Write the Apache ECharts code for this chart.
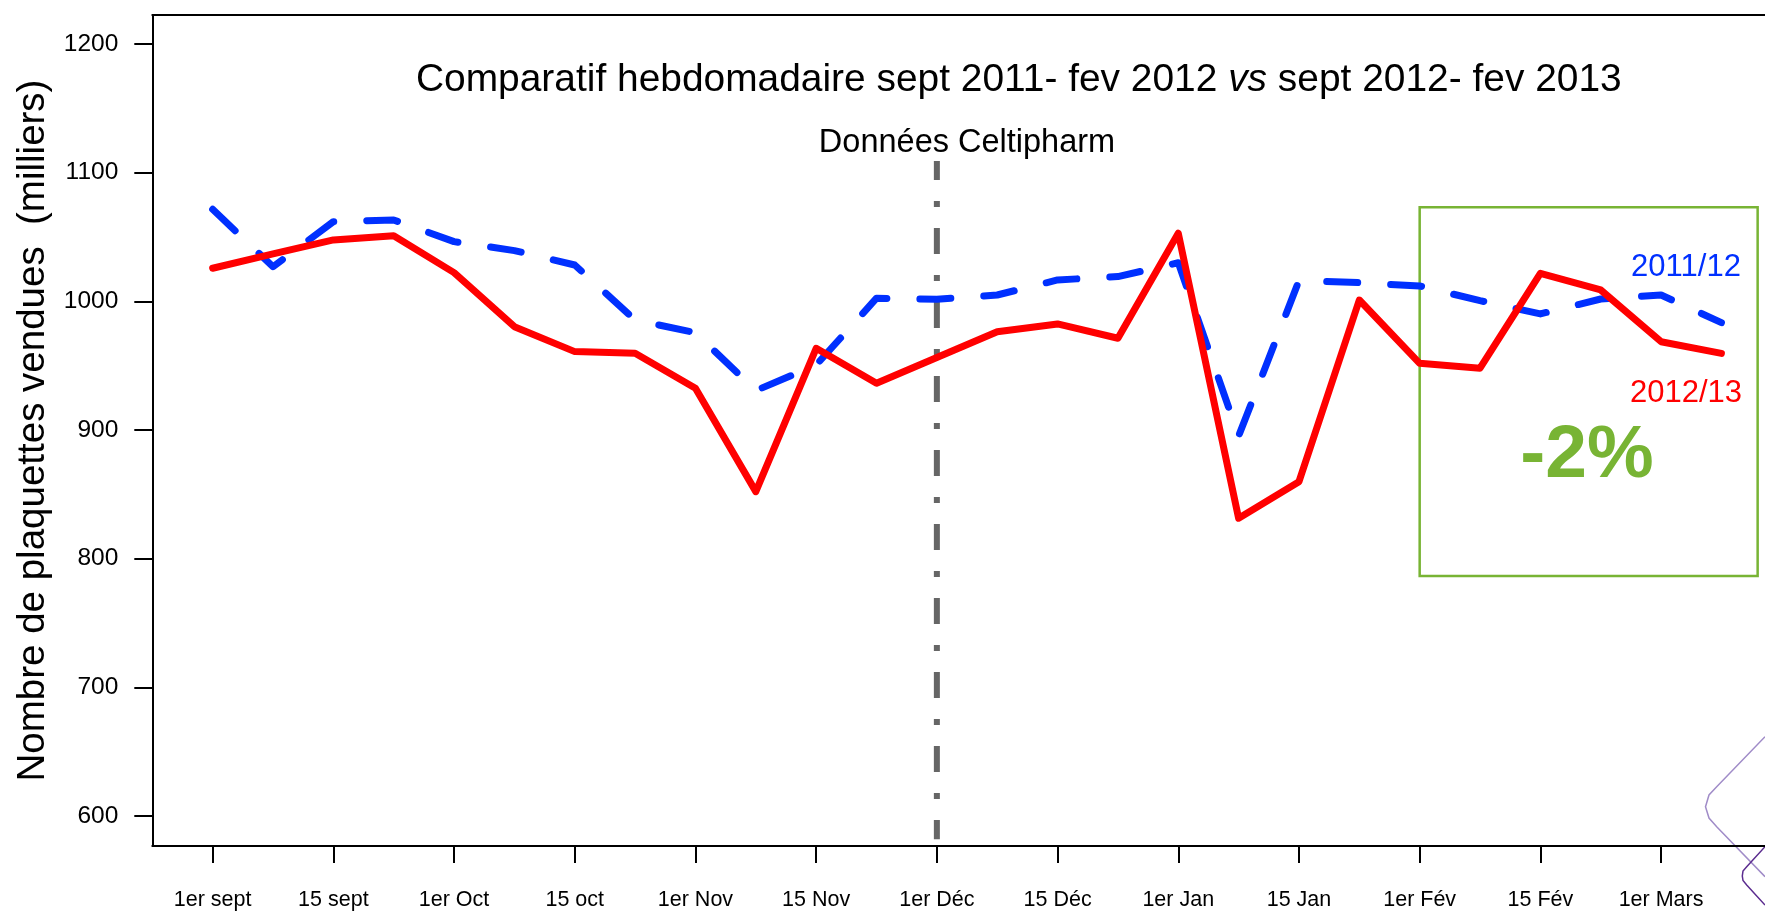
<!DOCTYPE html>
<html><head><meta charset="utf-8">
<script src="https://cdn.jsdelivr.net/npm/echarts@6/dist/echarts.min.js"></script>
<style>html,body{margin:0;padding:0;background:#fff}#c{width:1765px;height:911px}</style>
</head><body><div id="c"></div>
<script>
// ---- data ----
const tickLabels = ['1er sept','15 sept','1er Oct','15 oct','1er Nov','15 Nov','1er Déc','15 Déc','1er Jan','15 Jan','1er Fév','15 Fév','1er Mars'];
const tickWeeks = [0,2,4,6,8,10,12,14,16,18,20,22,24];
const yTicks = [600,700,800,900,1000,1100,1200];
const seriesNames = ['2011/12','2012/13'];
const season2011 = [1071.5,1026.9,1061.9,1063.2,1046.4,1039.4,1028.2,985.5,975.6,930.6,950.5,1002.4,1001.6,1004.9,1016.6,1019.2,1030.0,895.3,1016.0,1014.5,1011.9,1000.5,990.2,1001.8,1004.9,983.4];
const season2012 = [1025.7,1036.8,1047.7,1051.0,1022.3,980.3,960.9,959.6,932.4,852.1,963.5,936.3,956.4,976.4,982.4,971.3,1052.9,831.4,859.8,1001.0,951.8,948.0,1021.8,1008.8,968.6,959.5];
const markerWeek = 12;          // 1er Déc : début des données Celtipharm
const markerRange = [1109, 582];
const boxWeeks = [20, 25.6];
const boxValues = [1073.1, 786.5];

const FONT = '"Liberation Sans", Arial, Helvetica, sans-serif';
const chart = echarts.init(document.getElementById('c'), null, {renderer: 'canvas'});

const toPts = arr => arr.map((v, i) => [i, v]);

chart.setOption({
  animation: false,
  backgroundColor: '#ffffff',
  title: {
    text: '{n|Comparatif hebdomadaire sept 2011- fev 2012 }{i|vs}{n| sept 2012- fev 2013}',
    left: 411, top: 56,
    textStyle: {
      fontWeight: 'normal', fontSize: 38.9, fontFamily: FONT, color: '#000',
      rich: {
        n: {fontSize: 38.9, fontFamily: FONT, color: '#000', fontWeight: 'normal'},
        i: {fontSize: 38.9, fontFamily: FONT, color: '#000', fontWeight: 'normal', fontStyle: 'italic'}
      }
    }
  },
  grid: {left: 152.3, right: 0, top: 15, bottom: 65},
  xAxis: [{
    type: 'value', position: 'bottom', min: -1, max: 25.722,
    splitLine: {show: false},
    axisLine: {show: true, onZero: false, lineStyle: {color: '#000', width: 2}},
    axisTick: {show: true, customValues: tickWeeks, length: 17, lineStyle: {color: '#000', width: 2}},
    axisLabel: {show: true, customValues: tickWeeks, margin: 43, fontSize: 21.5, fontFamily: FONT, color: '#000',
      formatter: v => tickLabels[Math.round(v / 2)] || ''}
  }, {
    type: 'value', position: 'top', min: -1, max: 25.722,
    splitLine: {show: false},
    axisLine: {show: true, onZero: false, lineStyle: {color: '#000', width: 2}},
    axisTick: {show: false}, axisLabel: {show: false}
  }],
  yAxis: {
    type: 'value', min: 576.7, max: 1222.5,
    splitLine: {show: false},
    axisLine: {show: true, onZero: false, lineStyle: {color: '#000', width: 2}},
    axisTick: {show: true, customValues: yTicks, length: 18, lineStyle: {color: '#000', width: 2}},
    axisLabel: {show: true, customValues: yTicks, margin: 34, fontSize: 24.5, fontFamily: FONT, color: '#000',
      formatter: v => String(Math.round(v))},
    name: 'Nombre de plaquettes vendues  (milliers)',
    nameLocation: 'middle', nameGap: 98,
    nameTextStyle: {fontSize: 38.5, fontFamily: FONT, color: '#000'}
  },
  series: [
    {
      name: 'marker', type: 'line', silent: true, z: 1, showSymbol: false,
      data: [[markerWeek, markerRange[0]], [markerWeek, markerRange[1]]],
      lineStyle: {color: '#666666', width: 6, type: [26, 21, 6, 21], dashOffset: 7, cap: 'butt'}
    },
    {
      name: seriesNames[0], type: 'line', z: 2, showSymbol: false,
      data: toPts(season2011),
      lineStyle: {color: '#0030FF', width: 7, type: [31, 33], cap: 'round', join: 'round'}
    },
    {
      name: seriesNames[1], type: 'line', z: 3, showSymbol: false,
      data: toPts(season2012),
      lineStyle: {color: '#FF0000', width: 7, cap: 'round', join: 'round'},
      markArea: {
        silent: true,
        itemStyle: {color: 'rgba(0,0,0,0)', borderColor: '#78B434', borderWidth: 2.5},
        data: [[{coord: [boxWeeks[0], boxValues[0]]}, {coord: [boxWeeks[1], boxValues[1]]}]]
      }
    }
  ],
  graphic: [
    {type: 'text', x: 967, y: 143, style: {text: 'Données Celtipharm', fill: '#000', font: '32.5px ' + FONT, textAlign: 'center', textVerticalAlign: 'middle'}},
    {type: 'text', x: 1686, y: 267, style: {text: seriesNames[0], fill: '#0030FF', font: '31px ' + FONT, textAlign: 'center', textVerticalAlign: 'middle'}},
    {type: 'text', x: 1686, y: 393, style: {text: seriesNames[1], fill: '#FF0000', font: '31px ' + FONT, textAlign: 'center', textVerticalAlign: 'middle'}},
    {type: 'text', x: 1587, y: 456, style: {text: '-2%', fill: '#78B434', font: 'bold 75px ' + FONT, textAlign: 'center', textVerticalAlign: 'middle'}},
    {type: 'polyline', shape: {points: [[1765,736.7],[1716.7,786.7],[1709,795],[1705.5,806.7],[1709,818],[1716.7,826.7],[1765,876.7]]}, style: {fill: null, stroke: '#A08CC8', lineWidth: 1.5}},
    {type: 'polyline', shape: {points: [[1765,846.7],[1746.7,866.7],[1743,871],[1742.3,876],[1743,880.5],[1746.7,885],[1765,905]]}, style: {fill: null, stroke: '#5B2C8F', lineWidth: 1.5}}
  ]
});
</script></body></html>
